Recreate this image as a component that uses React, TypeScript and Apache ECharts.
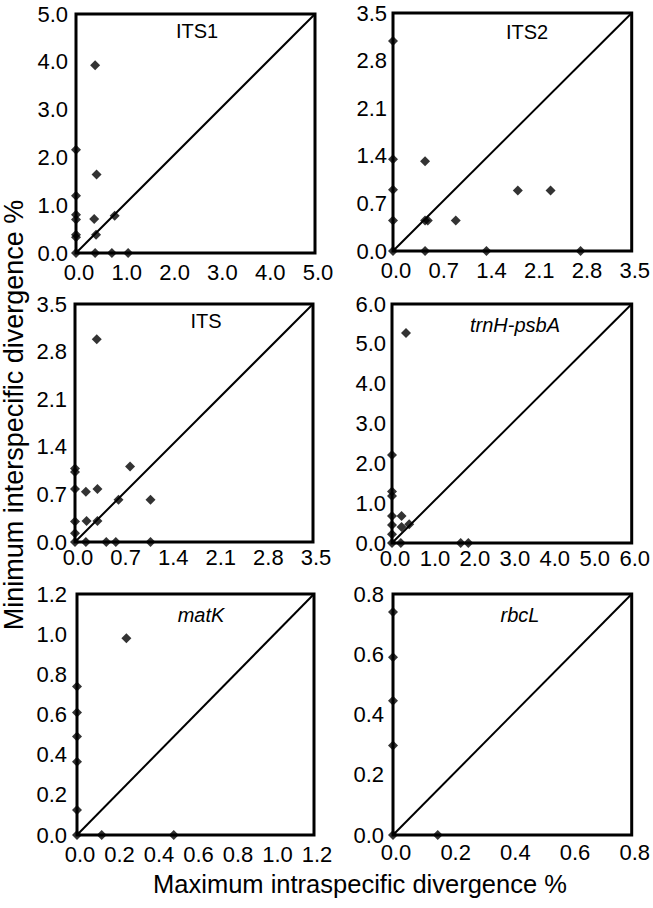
import React, { useEffect, useRef } from "react";
import * as echarts from "echarts";

// ---- data ----
const panelNames = ["ITS1", "ITS2", "ITS", "trnH-psbA", "matK", "rbcL"];
const italicPanels = [false, false, false, true, true, true];
const axisMax = [5, 3.5, 3.5, 6, 1.2, 0.8];
const axisStep = [1, 0.7, 0.7, 1, 0.2, 0.2];

const its1X = [0.40, 0, 0.43, 0, 0, 0, 0.38, 0.81, 0, 0, 0.42, 0, 0.40, 0.75, 1.09];
const its1Y = [3.93, 2.16, 1.64, 1.20, 0.80, 0.70, 0.71, 0.78, 0.38, 0.33, 0.38, 0, 0, 0, 0];

const its2X = [0, 0, 0.47, 0, 1.83, 2.31, 0, 0.47, 0.51, 0.92, 0, 0.47, 1.37, 2.75];
const its2Y = [3.09, 1.35, 1.32, 0.90, 0.89, 0.89, 0.45, 0.45, 0.45, 0.45, 0, 0, 0, 0];

const itsX = [0.32, 0, 0, 0.81, 0, 0.16, 0.33, 0.64, 1.11, 0, 0.17, 0.33, 0, 0, 0.16, 0.46, 0.60, 1.11];
const itsY = [2.98, 1.08, 1.03, 1.11, 0.78, 0.74, 0.78, 0.62, 0.62, 0.30, 0.31, 0.31, 0.13, 0, 0, 0, 0, 0];

const trnhX = [0.35, 0, 0, 0, 0, 0.24, 0, 0.24, 0.43, 0, 0, 0.22, 1.72, 1.91];
const trnhY = [5.27, 2.21, 1.29, 1.18, 0.68, 0.68, 0.45, 0.40, 0.47, 0.22, 0, 0, 0, 0];

const matkX = [0.25, 0, 0, 0, 0, 0, 0, 0.125, 0.49];
const matkY = [0.98, 0.74, 0.61, 0.49, 0.365, 0.125, 0, 0, 0];

const rbclX = [0, 0, 0, 0, 0, 0.15];
const rbclY = [0.74, 0.59, 0.446, 0.297, 0, 0];

const xTitle = "Maximum intraspecific divergence %";
const yTitle = "Minimum interspecific divergence %";

// ---- layout ----
const grids = [
  { left: 76, top: 14, width: 239, height: 239 },
  { left: 393, top: 13, width: 240, height: 238 },
  { left: 75, top: 304, width: 238, height: 238 },
  { left: 392, top: 304, width: 240, height: 239 },
  { left: 77, top: 594, width: 237, height: 241 },
  { left: 393, top: 594, width: 239, height: 241 },
];
const xLabelMargin = [8, 8, 4, 4, 8, 6];
const yLabelMargin = [8, 6, 8, 6, 10, 9];
const titlePos = [
  [197, 31],
  [527, 32],
  [206, 321],
  [515, 325],
  [201, 615],
  [520, 615],
];

const FONT = 'Arial, "Liberation Sans", sans-serif';

export default function App() {
  const ref = useRef<HTMLDivElement>(null);

  useEffect(() => {
    if (!ref.current) return;
    document.body.style.margin = "0";
    const chart = echarts.init(ref.current, undefined, { renderer: "svg" });

    const xs = [its1X, its2X, itsX, trnhX, matkX, rbclX];
    const ys = [its1Y, its2Y, itsY, trnhY, matkY, rbclY];

    const grid = grids.map((g) => ({
      ...g,
      show: true,
      borderColor: "#000",
      borderWidth: 3,
      backgroundColor: "transparent",
      containLabel: false,
    }));

    const fmt = (v: number) => v.toFixed(1);

    const xAxis = axisMax.map((m, i) => ({
      type: "value",
      gridIndex: i,
      min: 0,
      max: m,
      interval: axisStep[i],
      axisLine: { show: false },
      axisTick: { show: false },
      splitLine: { show: false },
      axisLabel: {
        color: "#000",
        fontSize: 22,
        fontFamily: FONT,
        margin: xLabelMargin[i],
        padding: [0, 0, 0, 6],
        formatter: fmt,
      },
    }));
    const yAxis = axisMax.map((m, i) => ({
      type: "value",
      gridIndex: i,
      min: 0,
      max: m,
      interval: axisStep[i],
      axisLine: { show: false },
      axisTick: { show: false },
      splitLine: { show: false },
      axisLabel: {
        color: "#000",
        fontSize: 22,
        fontFamily: FONT,
        margin: yLabelMargin[i],
        formatter: fmt,
      },
    }));

    const series: any[] = [];
    axisMax.forEach((m, i) => {
      series.push({
        type: "line",
        xAxisIndex: i,
        yAxisIndex: i,
        data: [
          [0, 0],
          [m, m],
        ],
        symbol: "none",
        lineStyle: { color: "#000", width: 2 },
        z: 2,
        silent: true,
      });
      series.push({
        type: "scatter",
        xAxisIndex: i,
        yAxisIndex: i,
        data: xs[i].map((x, k) => [x, ys[i][k]]),
        symbol: "diamond",
        symbolSize: 10,
        itemStyle: { color: "#000" },
        clip: false,
        z: 3,
      });
    });

    const graphic: any[] = panelNames.map((name, i) => ({
      type: "text",
      x: titlePos[i][0],
      y: titlePos[i][1],
      style: {
        text: name,
        fill: "#000",
        fontSize: 20,
        fontFamily: FONT,
        fontStyle: italicPanels[i] ? "italic" : "normal",
        align: "center",
        verticalAlign: "middle",
        textAlign: "center",
        textVerticalAlign: "middle",
      },
    }));
    graphic.push({
      type: "text",
      x: 360,
      y: 884,
      style: {
        text: xTitle,
        fill: "#000",
        fontSize: 25.5,
        fontFamily: FONT,
        align: "center",
        verticalAlign: "middle",
        textAlign: "center",
        textVerticalAlign: "middle",
      },
    });
    graphic.push({
      type: "text",
      x: 13.5,
      y: 415,
      rotation: Math.PI / 2,
      style: {
        text: yTitle,
        fill: "#000",
        fontSize: 27,
        fontFamily: FONT,
        align: "center",
        verticalAlign: "middle",
        textAlign: "center",
        textVerticalAlign: "middle",
      },
    });

    chart.setOption({
      animation: false,
      backgroundColor: "#fff",
      grid,
      xAxis,
      yAxis,
      series,
      graphic,
    });

    return () => chart.dispose();
  }, []);

  return (
    <div
      ref={ref}
      style={{ width: 653, height: 908, position: "absolute", left: 0, top: 0 }}
    />
  );
}
